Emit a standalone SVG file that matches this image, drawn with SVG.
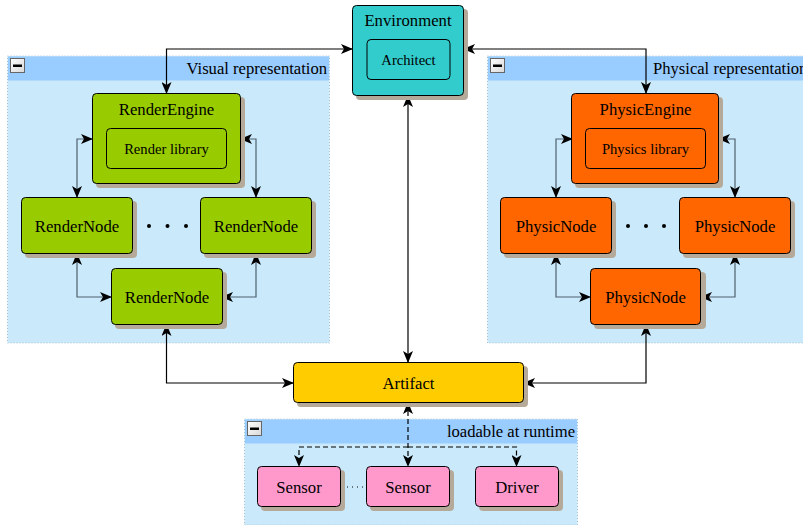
<svg xmlns="http://www.w3.org/2000/svg" width="803" height="525" viewBox="0 0 803 525">
<defs>
<marker id="ar" viewBox="0 0 12 10" refX="11" refY="5" markerWidth="12" markerHeight="10" markerUnits="userSpaceOnUse" orient="auto-start-reverse">
<path d="M0,0 L12,5 L0,10 L3,5 z" fill="#000"/>
</marker>
<linearGradient id="btn" x1="0" y1="0" x2="1" y2="1">
<stop offset="0" stop-color="#ffffff"/>
<stop offset="1" stop-color="#d8d8d8"/>
</linearGradient>
</defs>
<style>
.gbody{fill:#caeafc;stroke:#a8bfd0;stroke-width:1;stroke-dasharray:1,2;}
.ghead{fill:#99ccff;}
.glabel{font-size:16.6px;text-anchor:end;}
.btn{fill:url(#btn);stroke:#666;stroke-width:1;}
.shadow{fill:#b5aa9a;}
.node{stroke:#000;stroke-width:1;}
.inner{fill:none;stroke:#000;stroke-width:1;}
.lbl{font-size:16.7px;text-anchor:middle;}
.slbl{font-size:14.6px;text-anchor:middle;}
.c{fill:none;stroke:#000;stroke-width:1.2;}
.ci{fill:none;stroke:#4f5f6b;stroke-width:1.2;}
.cd{fill:none;stroke:#000;stroke-width:1.2;stroke-dasharray:5,3;}
.green{fill:#99cc00;}
.orange{fill:#ff6600;}
.teal{fill:#33cccc;}
.yellow{fill:#ffcc00;}
.pink{fill:#ff99cc;}
</style>
<g font-family="Liberation Serif, DejaVu Serif, serif" fill="#000">

<!-- groups -->
<g id="group-visual">
<rect class="gbody" x="7.5" y="56" width="322" height="287"/>
<rect class="ghead" x="8" y="56.5" width="321" height="24"/>
<rect class="btn" x="10.5" y="58.5" width="14" height="14"/>
<rect x="13" y="64.5" width="9" height="2.5" fill="#000"/>
<text class="glabel" x="327" y="74">Visual representation</text>
</g>
<g id="group-physical">
<rect class="gbody" x="487.5" y="56" width="320" height="287"/>
<rect class="ghead" x="488" y="56.5" width="320" height="24"/>
<rect class="btn" x="490.5" y="58.5" width="14" height="14"/>
<rect x="493" y="64.5" width="9" height="2.5" fill="#000"/>
<text x="653" y="74" font-size="16.6">Physical representation</text>
</g>
<g id="group-loadable">
<rect class="gbody" x="244.5" y="419" width="333" height="106"/>
<rect class="ghead" x="245" y="419.5" width="332" height="24"/>
<rect class="btn" x="247.5" y="421.5" width="14" height="14"/>
<rect x="250" y="427.5" width="9" height="2.5" fill="#000"/>
<text class="glabel" x="575" y="437">loadable at runtime</text>
</g>

<!-- connectors -->
<g id="connectors">
<path class="c" d="M352,49 H166.5 V93" marker-start="url(#ar)" marker-end="url(#ar)"/>
<path class="c" d="M464,49 H646 V93" marker-start="url(#ar)" marker-end="url(#ar)"/>
<path class="c" d="M408,96 V362" marker-start="url(#ar)" marker-end="url(#ar)"/>
<path class="c" d="M166.5,325 V383 H293" marker-start="url(#ar)" marker-end="url(#ar)"/>
<path class="c" d="M646,325 V383 H524" marker-start="url(#ar)" marker-end="url(#ar)"/>
<path class="ci" d="M92,139 H77 V197" marker-start="url(#ar)" marker-end="url(#ar)"/>
<path class="ci" d="M241,139 H256 V197" marker-start="url(#ar)" marker-end="url(#ar)"/>
<path class="ci" d="M77,254 V297 H111" marker-start="url(#ar)" marker-end="url(#ar)"/>
<path class="ci" d="M256,254 V297 H222" marker-start="url(#ar)" marker-end="url(#ar)"/>
<path class="ci" d="M572,139 H556 V197" marker-start="url(#ar)" marker-end="url(#ar)"/>
<path class="ci" d="M719,139 H735 V197" marker-start="url(#ar)" marker-end="url(#ar)"/>
<path class="ci" d="M556,254 V297 H590" marker-start="url(#ar)" marker-end="url(#ar)"/>
<path class="ci" d="M735,254 V297 H701" marker-start="url(#ar)" marker-end="url(#ar)"/>
<path class="cd" d="M408,403 V466" marker-start="url(#ar)" marker-end="url(#ar)"/>
<path class="cd" d="M408,447 H299 V466" marker-end="url(#ar)"/>
<path class="cd" d="M408,447 H516.5 V466" marker-end="url(#ar)"/>
<path d="M342,487 H366" fill="none" stroke="#000" stroke-width="1" stroke-dasharray="1,4"/>
</g>

<!-- nodes -->
<g id="environment">
<rect class="shadow" x="356" y="9" width="112" height="91" rx="4"/>
<rect class="node teal" x="352.5" y="5.5" width="111" height="90" rx="4"/>
<text class="lbl" x="408" y="26">Environment</text>
</g>
<g id="architect">
<rect class="inner" x="367" y="39.5" width="83" height="40" rx="4"/>
<text class="slbl" x="408.5" y="64.5">Architect</text>
</g>

<g id="renderengine">
<rect class="shadow" x="96" y="97" width="149" height="91" rx="4"/>
<rect class="node green" x="92.5" y="93.5" width="148" height="90" rx="4"/>
<text class="lbl" x="166.5" y="115">RenderEngine</text>
</g>
<g id="renderlibrary">
<rect class="inner" x="106.5" y="128.5" width="120" height="40" rx="4"/>
<text class="slbl" x="166.5" y="153.5">Render library</text>
</g>
<g id="rendernode1">
<rect class="shadow" x="25" y="201" width="112" height="57" rx="4"/>
<rect class="node green" x="21.5" y="197.5" width="111" height="56" rx="4"/>
<text class="lbl" x="77" y="231.5">RenderNode</text>
</g>
<g id="rendernode2">
<rect class="shadow" x="204" y="201" width="112" height="57" rx="4"/>
<rect class="node green" x="200.5" y="197.5" width="111" height="56" rx="4"/>
<text class="lbl" x="256" y="231.5">RenderNode</text>
</g>
<g id="rendernode3">
<rect class="shadow" x="115" y="272" width="112" height="57" rx="4"/>
<rect class="node green" x="111.5" y="268.5" width="111" height="56" rx="4"/>
<text class="lbl" x="167" y="302.5">RenderNode</text>
</g>
<g id="renderdots">
<circle cx="149" cy="226" r="2"/>
<circle cx="167.5" cy="226" r="2"/>
<circle cx="186" cy="226" r="2"/>
</g>

<g id="physicengine">
<rect class="shadow" x="575" y="97" width="148" height="91" rx="4"/>
<rect class="node orange" x="571.5" y="93.5" width="147" height="90" rx="4"/>
<text class="lbl" x="645.5" y="115">PhysicEngine</text>
</g>
<g id="physicslibrary">
<rect class="inner" x="585.5" y="128.5" width="120" height="40" rx="4"/>
<text class="slbl" x="645.5" y="153.5">Physics library</text>
</g>
<g id="physicnode1">
<rect class="shadow" x="504" y="201" width="112" height="57" rx="4"/>
<rect class="node orange" x="500.5" y="197.5" width="111" height="56" rx="4"/>
<text class="lbl" x="556" y="231.5">PhysicNode</text>
</g>
<g id="physicnode2">
<rect class="shadow" x="683" y="201" width="112" height="57" rx="4"/>
<rect class="node orange" x="679.5" y="197.5" width="111" height="56" rx="4"/>
<text class="lbl" x="735" y="231.5">PhysicNode</text>
</g>
<g id="physicnode3">
<rect class="shadow" x="594" y="272" width="112" height="57" rx="4"/>
<rect class="node orange" x="590.5" y="268.5" width="110" height="56" rx="4"/>
<text class="lbl" x="645.5" y="302.5">PhysicNode</text>
</g>
<g id="physicdots">
<circle cx="628" cy="226" r="2"/>
<circle cx="646" cy="226" r="2"/>
<circle cx="664" cy="226" r="2"/>
</g>

<g id="artifact">
<rect class="shadow" x="297" y="366" width="231" height="41" rx="4"/>
<rect class="node yellow" x="293.5" y="362.5" width="230" height="40" rx="4"/>
<text class="lbl" x="408.5" y="388.5">Artifact</text>
</g>

<g id="sensor1">
<rect class="shadow" x="261" y="470" width="84" height="41" rx="4"/>
<rect class="node pink" x="257.5" y="466.5" width="83" height="40" rx="4"/>
<text class="lbl" x="299" y="492.5">Sensor</text>
</g>
<g id="sensor2">
<rect class="shadow" x="370" y="470" width="84" height="41" rx="4"/>
<rect class="node pink" x="366.5" y="466.5" width="83" height="40" rx="4"/>
<text class="lbl" x="408" y="492.5">Sensor</text>
</g>
<g id="driver">
<rect class="shadow" x="479" y="470" width="84" height="41" rx="4"/>
<rect class="node pink" x="475.5" y="466.5" width="83" height="40" rx="4"/>
<text class="lbl" x="517" y="492.5">Driver</text>
</g>
</g>
</svg>
